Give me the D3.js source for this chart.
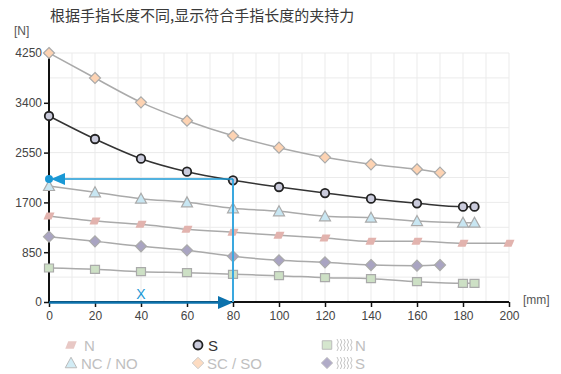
<!DOCTYPE html>
<html><head><meta charset="utf-8">
<script src="https://cdn.jsdelivr.net/npm/d3@7"></script>
<style>body{margin:0;background:#fff}svg{display:block}</style>
</head><body><svg id="c" width="561" height="374"></svg>
<script>
const title = "根据手指长度不同,显示符合手指长度的夹持力";
const xTicks = [0,20,40,60,80,100,120,140,160,180,200];
const yTicks = [0,850,1700,2550,3400,4250];

const scX = [0,20,40,60,80,100,120,140,160,170];
const scY = [4250,3823,3408,3094,2838,2634,2469,2350,2265,2207];
const sX = [0,20,40,60,80,100,120,140,160,180,185];
const sY = [3175,2782,2446,2224,2077,1963,1860,1763,1685,1627,1627];
const ncX = [0,20,40,60,80,100,120,140,160,180,185];
const ncY = [1980,1872,1763,1701,1599,1548,1463,1439,1382,1354,1354];
const nX = [0,20,40,60,80,100,120,140,160,180,200];
const nY = [1468,1382,1326,1241,1190,1138,1092,1036,1036,1002,1002];
const gsX = [0,20,40,60,80,100,120,140,160,170];
const gsY = [1115,1036,951,882,780,711,677,631,620,631];
const gnX = [0,20,40,60,80,100,120,140,160,180,185];
const gnY = [580,558,518,501,473,450,415,398,347,319,319];
const markX = 80, markY = 2100;

const svg = d3.select("#c");
const x = d3.scaleLinear().domain([0,200]).range([49,509]);
const y = d3.scaleLinear().domain([0,4250]).range([302,53]);
const font = "Liberation Sans, Arial, sans-serif";

// grid
const g = svg.append("g");
g.selectAll("line.v").data(d3.range(10,201,10)).enter().append("line")
 .attr("x1",d=>x(d)).attr("x2",d=>x(d)).attr("y1",y(4250)).attr("y2",y(0))
 .attr("stroke","#ebebeb").attr("stroke-width",1);
g.selectAll("line.h").data(d3.range(425,4251,425)).enter().append("line")
 .attr("x1",x(0)).attr("x2",x(200)).attr("y1",d=>y(d)).attr("y2",d=>y(d))
 .attr("stroke","#ebebeb").attr("stroke-width",1);

// axes
const ax = svg.append("g").attr("transform",`translate(0,${y(0)})`)
 .call(d3.axisBottom(x).tickValues(xTicks).tickSize(5).tickPadding(4).tickFormat(d3.format("d")));
const ay = svg.append("g").attr("transform",`translate(${x(0)},0)`)
 .call(d3.axisLeft(y).tickValues(yTicks).tickSize(5).tickPadding(2).tickFormat(d3.format("d")));
[ax,ay].forEach(a=>{
  a.select(".domain").attr("stroke","#111").attr("stroke-width",2);
  a.selectAll(".tick line").attr("stroke","#111").attr("stroke-width",1.5);
  a.selectAll("text").attr("font-family",font).attr("font-size",12).attr("fill","#444");
});
ax.select(".domain").attr("d",`M${x(0)},0H${x(200)}`);
ay.select(".domain").attr("d",`M0,${y(0)}V${y(4250)}`);

svg.append("text").attr("x",14).attr("y",35).text("[N]")
 .attr("font-family",font).attr("font-size",12).attr("fill","#555");
svg.append("text").attr("x",523).attr("y",304).text("[mm]")
 .attr("font-family",font).attr("font-size",12).attr("fill","#555");
svg.append("text").attr("x",50).attr("y",21).text(title)
 .attr("font-family","Noto Sans CJK SC, sans-serif").attr("font-size",15).attr("fill","#3a3a3a");

// shapes
function shape(sel, type, s){
  const h=s/2;
  if(type==="circle") return sel.append("circle").attr("r",h);
  let d;
  if(type==="diamond") d=`M0,${-h-1}L${h+1},0L0,${h+1}L${-h-1},0Z`;
  if(type==="square") d=`M${-h},${-h+0.5}H${h}V${h-0.5}H${-h}Z`;
  if(type==="triangle") d=`M0,${-h-1}L${h+1},${h}L${-h-1},${h}Z`;
  if(type==="para") d=`M${-h+2},${-h+1}H${h+1}L${h-2},${h-1}H${-h-1}Z`;
  return sel.append("path").attr("d",d);
}

const series = [
 {X:gnX,Y:gnY,type:"square",fill:"#cde0c5",stroke:"#aaa",line:"#aaa"},
 {X:gsX,Y:gsY,type:"diamond",fill:"#a9a4c2",stroke:"#aaa",line:"#aaa"},
 {X:nX,Y:nY,type:"para",fill:"#e2b3ae",stroke:"none",line:"#aaa"},
 {X:ncX,Y:ncY,type:"triangle",fill:"#c8e6f2",stroke:"#aaa",line:"#aaa"},
 {X:scX,Y:scY,type:"diamond",fill:"#fdd3b3",stroke:"#aaa",line:"#aaa"},
 {X:sX,Y:sY,type:"circle",fill:"#cacbdc",stroke:"#222",line:"#333"},
];
const line = d3.line().x(d=>x(d[0])).y(d=>y(d[1])).curve(d3.curveMonotoneX);
series.forEach(s=>{
  const pts = s.X.map((v,i)=>[v,s.Y[i]]);
  svg.append("path").attr("d",line(pts)).attr("fill","none")
   .attr("stroke",s.line).attr("stroke-width",1.5);
});
series.forEach(s=>{
  s.X.forEach((v,i)=>{
    const gg = svg.append("g").attr("transform",`translate(${x(v)},${y(s.Y[i])})`);
    shape(gg,s.type,s.type==="circle"?8.5:9).attr("fill",s.fill).attr("stroke",s.stroke)
     .attr("stroke-width",s.type==="circle"?1.8:1.2);
  });
});

// annotation
const blue="#1a98d5", dblue="#0c72ad";
svg.append("line").attr("x1",x(markX)).attr("x2",x(markX)).attr("y1",y(markY)).attr("y2",y(0))
 .attr("stroke","#3aa8df").attr("stroke-width",2);
svg.append("line").attr("x1",x(markX)).attr("x2",x(0)+12).attr("y1",y(markY)).attr("y2",y(markY))
 .attr("stroke",blue).attr("stroke-width",1.6);
svg.append("path").attr("d",`M${x(0)+2},${y(markY)}L${x(0)+16},${y(markY)-6}L${x(0)+16},${y(markY)+6}Z`).attr("fill",blue);
svg.append("circle").attr("cx",x(0)).attr("cy",y(markY)).attr("r",4).attr("fill",blue);
svg.append("line").attr("x1",x(0)).attr("x2",x(markX)-12).attr("y1",y(0)+0.5).attr("y2",y(0)+0.5)
 .attr("stroke",dblue).attr("stroke-width",2.5);
svg.append("path").attr("d",`M${x(markX)},${y(0)+0.5}L${x(markX)-15},${y(0)-6}L${x(markX)-15},${y(0)+7}Z`).attr("fill",dblue);
svg.append("text").attr("x",x(40)).attr("y",y(0)-3).attr("text-anchor","middle").text("X")
 .attr("font-family",font).attr("font-size",14).attr("fill",blue);

// legend
const legend = [
 {label:"N",type:"para",fill:"#e8c8c5",stroke:"none",x:71,y:345,dim:true,tx:13},
 {label:"NC / NO",type:"triangle",fill:"#d2ecf5",stroke:"#bbb",x:71,y:363,dim:true,tx:10},
 {label:"S",type:"circle",fill:"#cacbdc",stroke:"#222",x:198,y:345,dim:false,tx:10},
 {label:"SC / SO",type:"diamond",fill:"#fddcc2",stroke:"#ccc",x:198,y:363,dim:true,tx:9},
 {label:"N",type:"square",fill:"#d5e6ce",stroke:"#bbb",x:327,y:345,dim:true,icon:true,tx:28},
 {label:"S",type:"diamond",fill:"#b0abc7",stroke:"#ccc",x:327,y:363,dim:true,icon:true,tx:28},
];
legend.forEach(l=>{
  const gg = svg.append("g").attr("transform",`translate(${l.x},${l.y})`);
  shape(gg,l.type,l.type==="circle"?9:9.5).attr("fill",l.fill).attr("stroke",l.stroke)
   .attr("stroke-width",l.type==="circle"?1.8:1);
  if(l.icon){
    let d="";
    for(let k=0;k<5;k++){
      const ox=10+k*3.4;
      d+=`M${ox},-6L${ox+1.4},-3L${ox},0L${ox+1.4},3L${ox},6`;
    }
    gg.append("path").attr("d",d).attr("fill","none").attr("stroke","#c4c4c4").attr("stroke-width",1);
  }
  gg.append("text").attr("x",l.tx).attr("y",5.5).text(l.label)
   .attr("font-family",font).attr("font-size",15).attr("fill",l.dim?"#c0c0c0":"#333");
});
</script></body></html>
